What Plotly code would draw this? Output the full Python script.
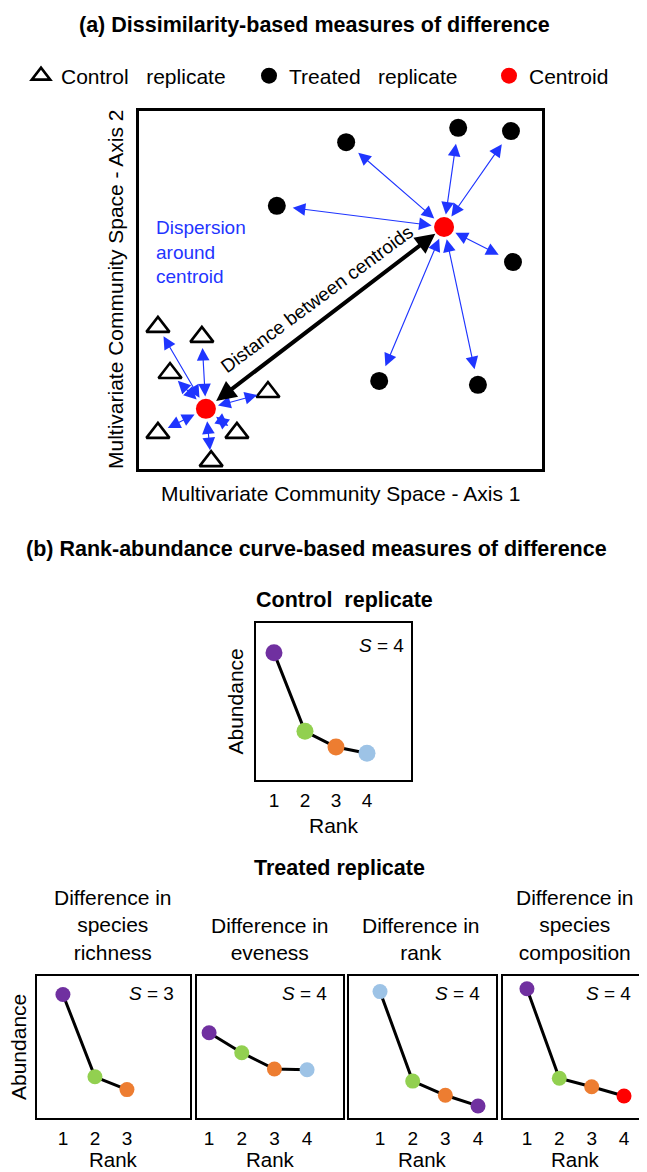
import plotly.graph_objects as go

# The page adds an 8px body margin, so the figure is 8px smaller than the window
# and every page-pixel position below is converted with that offset.
PAGE_W, PAGE_H = 647, 1172
OFF = 8
W, H = PAGE_W - OFF, PAGE_H - OFF
FONT = "Liberation Sans, Arial, sans-serif"
BLUE = "#1f35ff"

# ---------------- Panel (a): multivariate community space (arbitrary units 0-10)
control_axis1 = [0.47, 1.56, 0.77, 3.20, 0.47, 2.43, 1.79]
control_axis2 = [3.97, 3.69, 2.68, 2.15, 1.01, 1.01, 0.22]
treated_axis1 = [5.14, 7.92, 9.23, 3.42, 9.28, 5.96, 8.41]
treated_axis2 = [9.13, 9.53, 9.44, 7.35, 5.78, 2.46, 2.35]
centroid_axis1 = [1.66, 7.57]   # control, treated
centroid_axis2 = [1.68, 6.76]

# ---------------- Panel (b): rank-abundance curves
species_colors = {"A": "#7030A0", "B": "#92D050", "C": "#ED7D31", "D": "#9DC3E6", "E": "#FF0000"}

control_rank = [1, 2, 3, 4]
control_abund = [81, 31, 21, 17]
control_species = ["A", "B", "C", "D"]

treated_titles = ["Difference in<br>species<br>richness", "Difference in<br>eveness",
                  "Difference in<br>rank", "Difference in<br>species<br>composition"]
treated_ranks = [[1, 2, 3], [1, 2, 3, 4], [1, 2, 3, 4], [1, 2, 3, 4]]
treated_abund = [[87, 29, 20], [60, 46, 34.5, 34], [89, 26, 16, 8.5], [91, 28, 22, 15.5]]
treated_species = [["A", "B", "C"], ["A", "B", "C", "D"], ["D", "B", "C", "A"], ["A", "B", "C", "E"]]
treated_S = [3, 4, 4, 4]
treated_xrange = [[0.19, 4.97], [0.63, 5.1], [0.05, 4.55], [0.26, 4.71]]
control_xrange = [0.42, 5.42]


def px_x(p):
    return min(1.0, max(0.0, (p - OFF) / W))


def px_y(p):
    return min(1.0, max(0.0, 1 - (p - OFF) / H))


fig = go.Figure()

# panel (a) traces (each in its own legend box)
fig.add_trace(go.Scatter(x=control_axis1, y=control_axis2, mode="markers", name="Control\u00a0\u00a0 replicate",
                         marker=dict(symbol="triangle-up-open", size=20, color="black", line=dict(width=2.6, color="black")),
                         cliponaxis=False, xaxis="x", yaxis="y", legend="legend"))
fig.add_trace(go.Scatter(x=treated_axis1, y=treated_axis2, mode="markers", name="Treated\u00a0\u00a0 replicate",
                         marker=dict(symbol="circle", size=18, color="black"), cliponaxis=False, xaxis="x", yaxis="y",
                         legend="legend2"))
fig.add_trace(go.Scatter(x=centroid_axis1, y=centroid_axis2, mode="markers", name="Centroid",
                         marker=dict(symbol="circle", size=20, color="#FF0000"), cliponaxis=False, xaxis="x", yaxis="y",
                         legend="legend3"))

# panel (b) traces
fig.add_trace(go.Scatter(x=control_rank, y=control_abund, mode="lines+markers", showlegend=False,
                         line=dict(color="black", width=3),
                         marker=dict(size=17, color=[species_colors[s] for s in control_species]),
                         cliponaxis=False, xaxis="x2", yaxis="y2"))
for i in range(4):
    fig.add_trace(go.Scatter(x=treated_ranks[i], y=treated_abund[i], mode="lines+markers", showlegend=False,
                             line=dict(color="black", width=3),
                             marker=dict(size=15, color=[species_colors[s] for s in treated_species[i]]),
                             cliponaxis=False, xaxis="x%d" % (i + 3), yaxis="y%d" % (i + 3)))

box_common = dict(showline=True, mirror=True, linecolor="black", showgrid=False, zeroline=False,
                  fixedrange=True, automargin=False)


def legend_at(xpix):
    return dict(orientation="h", x=px_x(xpix), xanchor="left", y=px_y(76), yanchor="middle",
                font=dict(size=21, family=FONT, color="black"), bgcolor="rgba(0,0,0,0)",
                itemclick=False, itemdoubleclick=False)


layout = dict(
    width=W, height=H, autosize=False,
    margin=dict(l=0, r=0, t=0, b=0, pad=0),
    paper_bgcolor="white", plot_bgcolor="white",
    font=dict(family=FONT, color="black", size=19),
    showlegend=True,
    legend=legend_at(21),
    legend2=legend_at(249),
    legend3=legend_at(489),
    xaxis=dict(domain=[px_x(139), px_x(542)], range=[0, 10], showticklabels=False, ticks="",
               linewidth=2.5, anchor="y", **box_common),
    yaxis=dict(domain=[px_y(469), px_y(111)], range=[0, 10], showticklabels=False, ticks="",
               linewidth=2.5, anchor="x", **box_common),
)

rank_boxes_x = [[37, 190], [197, 343], [349, 496], [503, 647]]


def rank_x(domain, rng, ticks, anchor):
    return dict(domain=domain, range=rng, tickmode="array", tickvals=ticks, ticktext=[str(t) for t in ticks],
                ticks="outside", ticklen=2, tickcolor="rgba(0,0,0,0)", anchor=anchor,
                tickfont=dict(size=19, family=FONT, color="black"), linewidth=2, **box_common)


def rank_y(domain, anchor):
    return dict(domain=domain, range=[0, 100], showticklabels=False, ticks="", linewidth=2, anchor=anchor,
                **box_common)


layout["xaxis2"] = rank_x([px_x(256), px_x(411)], control_xrange, control_rank, "y2")
layout["yaxis2"] = rank_y([px_y(780), px_y(623)], "x2")
for i in range(4):
    x0, x1 = rank_boxes_x[i]
    layout["xaxis%d" % (i + 3)] = rank_x([px_x(x0), px_x(x1)], treated_xrange[i], treated_ranks[i],
                                         "y%d" % (i + 3))
    layout["yaxis%d" % (i + 3)] = rank_y([px_y(1118), px_y(976)], "x%d" % (i + 3))


def text_ann(text, x, y, xref="paper", yref="paper", size=21, **kw):
    d = dict(text=text, x=x, y=y, xref=xref, yref=yref, showarrow=False, font=dict(size=size),
             xanchor="center", yanchor="middle")
    d.update(kw)
    return d


ann = []
# titles
ann.append(text_ann("<b>(a) Dissimilarity-based measures of difference</b>", px_x(314), px_y(25), size=21.5))
ann.append(text_ann("<b>(b) Rank-abundance curve-based measures of difference</b>", px_x(316), px_y(549),
                    size=21.5))
ann.append(text_ann("<b>Control\u00a0 replicate</b>", px_x(344), px_y(600), size=21.5))
ann.append(text_ann("<b>Treated replicate</b>", px_x(340), px_y(868), size=21.5))

# panel (a) axis titles and labels
ann.append(text_ann("Multivariate Community Space - Axis 1", 0.5, 0, "x domain", "y domain", yshift=-25))
ann.append(text_ann("Multivariate Community Space - Axis 2", 0, 0.5, "x domain", "y domain", xshift=-24,
                    textangle=-90))
ann.append(text_ann("Dispersion<br>around<br>centroid", (154 - 139) / 403, (469 - 252) / 358, "x domain",
                    "y domain", size=19, xanchor="left", align="left", font=dict(size=19, color=BLUE)))
ann.append(text_ann("Distance between centroids", (316 - 139) / 403, (469 - 299) / 358, "x domain", "y domain",
                    size=19, textangle=-36.5))

# dispersion arrows
for xi, yi in zip(treated_axis1, treated_axis2):
    ann.append(dict(x=xi, y=yi, ax=centroid_axis1[1], ay=centroid_axis2[1], xref="x", yref="y", axref="x", ayref="y",
                    text="", showarrow=True, arrowside="end+start", arrowhead=2, startarrowhead=2,
                    arrowsize=2.2, startarrowsize=2.2, arrowwidth=1.15, arrowcolor=BLUE,
                    standoff=16, startstandoff=11))
for xi, yi in zip(control_axis1, control_axis2):
    ann.append(dict(x=xi, y=yi, ax=centroid_axis1[0], ay=centroid_axis2[0], xref="x", yref="y", axref="x", ayref="y",
                    text="", showarrow=True, arrowside="end+start", arrowhead=2, startarrowhead=2,
                    arrowsize=2.2, startarrowsize=2.2, arrowwidth=1.15, arrowcolor=BLUE,
                    standoff=11, startstandoff=11))
# distance between centroids
ann.append(dict(x=centroid_axis1[1], y=centroid_axis2[1], ax=centroid_axis1[0], ay=centroid_axis2[0],
                xref="x", yref="y", axref="x", ayref="y", text="", showarrow=True, arrowside="end+start",
                arrowhead=2, startarrowhead=2, arrowsize=1.0, startarrowsize=1.0, arrowwidth=4,
                arrowcolor="black", standoff=11, startstandoff=11))

# panel (b) labels
ann.append(text_ann("Abundance", 0, 0.5, "x2 domain", "y2 domain", xshift=-21, textangle=-90))
ann.append(text_ann("Rank", 0.5, 0, "x2 domain", "y2 domain", yshift=-45))
ann.append(text_ann("<i>S</i> = 4", 1, 1, "x2 domain", "y2 domain", size=19, xanchor="right",
                    xshift=-5, yshift=-22))
title_centers = [113, 270, 421, 575]
for i in range(4):
    xa, ya = "x%d" % (i + 3), "y%d" % (i + 3)
    ann.append(text_ann(treated_titles[i], px_x(title_centers[i]), px_y(966), yanchor="bottom"))
    ann.append(text_ann("Rank", 0.5, 0, xa + " domain", ya + " domain", yshift=-41, size=20.5))
    ann.append(text_ann("<i>S</i> = %d" % treated_S[i], 1, 1, xa + " domain", ya + " domain", size=19,
                        xanchor="right", xshift=-14, yshift=-17))
ann.append(text_ann("Abundance", 0, 0.5, "x3 domain", "y3 domain", xshift=-19, textangle=-90))

layout["annotations"] = ann
fig.update_layout(**layout)
fig.write_html("out.html")
